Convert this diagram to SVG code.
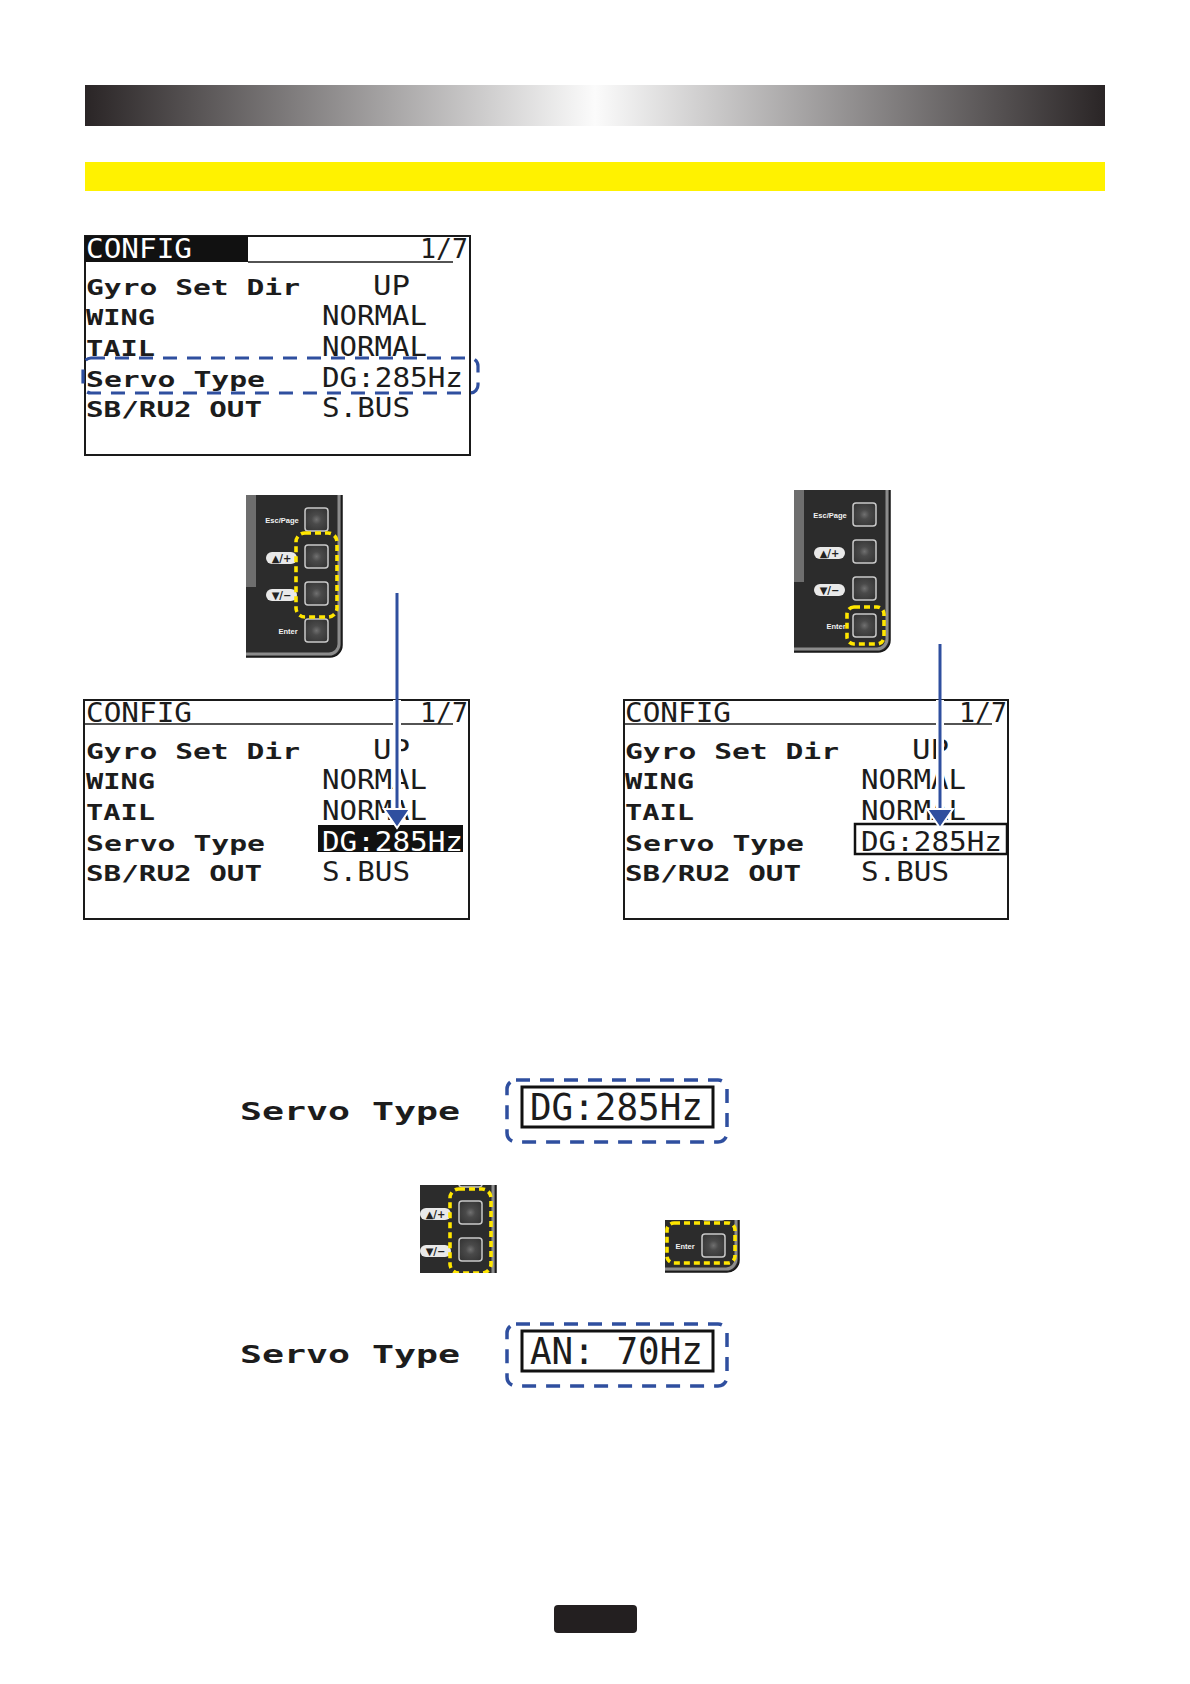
<svg xmlns="http://www.w3.org/2000/svg" xmlns:xlink="http://www.w3.org/1999/xlink" width="1190" height="1684" viewBox="0 0 1190 1684">
<style>
.scr{fill:#fff;stroke:#1a1a1a;stroke-width:2}
.hdr{stroke:#1a1a1a;stroke-width:1.6}
.lbl{font-family:"DejaVu Sans Mono",monospace;font-weight:bold;font-size:21px;fill:#1c1c1c}
.val{font-family:"DejaVu Sans Mono",monospace;font-size:27px;fill:#1c1c1c}
.blue{fill:none;stroke:#2f4f9f;stroke-width:3.2;stroke-dasharray:14 10}
.yel{fill:none;stroke:#ffe600;stroke-width:3.6;stroke-dasharray:6 4}
.btn{fill:url(#btnG);stroke:#c9c9c9;stroke-width:1.5}
.klbl{font-family:"Liberation Sans",Arial,sans-serif;font-weight:bold;font-size:7.5px;fill:#f2f2f2;text-anchor:middle}
.pill{fill:#e9e9e9}
.ptxt{font-family:"DejaVu Sans",sans-serif;font-weight:bold;font-size:10px;fill:#222;text-anchor:middle}
.arr{stroke:#2f4f9f;stroke-width:3}
.halo{stroke:#fff;stroke-width:8}
.head{fill:#2f4f9f;stroke:#fff;stroke-width:2}
</style>
<defs>
<linearGradient id="barG" x1="0" y1="0" x2="1" y2="0">
<stop offset="0" stop-color="#2a2526"/>
<stop offset="0.5" stop-color="#fbfbfb"/>
<stop offset="1" stop-color="#2a2526"/>
</linearGradient>
<radialGradient id="btnG" cx="0.5" cy="0.5" r="0.6">
<stop offset="0" stop-color="#707070"/>
<stop offset="0.35" stop-color="#4a4a4a"/>
<stop offset="1" stop-color="#353535"/>
</radialGradient>
<g id="kpbase">
<path d="M246,495 H342 V645 A12,12 0 0 1 330,657 H246 Z" fill="#2c2c2c"/>
<path d="M339,495 V644 A10,10 0 0 1 329,654 H246" fill="none" stroke="#8c8c8c" stroke-width="3"/>
<path d="M342,495 V645 A12,12 0 0 1 330,657 H246" fill="none" stroke="#161616" stroke-width="1.5"/>
<rect x="246" y="495" width="10" height="92" fill="#6e6e6e"/>
<rect class="btn" x="305" y="508" width="23" height="23" rx="3"/>
<rect class="btn" x="305" y="545" width="23" height="23" rx="3"/>
<rect class="btn" x="305" y="582" width="23" height="23" rx="3"/>
<rect class="btn" x="305" y="619" width="23" height="23" rx="3"/>
<text class="klbl" x="282" y="523">Esc/Page</text>
<rect class="pill" x="266" y="552" width="31" height="12" rx="6"/>
<text class="ptxt" x="281.5" y="561.5">▲/+</text>
<rect class="pill" x="266" y="589" width="31" height="12" rx="6"/>
<text class="ptxt" x="281.5" y="598.5">▼/−</text>
<text class="klbl" x="288" y="634">Enter</text>
</g>
<clipPath id="clipA" clipPathUnits="userSpaceOnUse"><rect x="420" y="1185" width="78" height="88"/></clipPath>
<clipPath id="clipB" clipPathUnits="userSpaceOnUse"><rect x="665" y="1220" width="77" height="54"/></clipPath>
</defs>

<g id="title-bar"><rect x="85" y="85" width="1020" height="41" fill="url(#barG)"/></g>
<g id="yellow-bar"><rect x="85" y="162" width="1020" height="29" fill="#fff200"/></g>

<g id="screen-1" transform="translate(85,236)">
<rect class="scr" x="0" y="0" width="385" height="219"/>
<rect x="0" y="0" width="163" height="26" fill="#111"/>
<line class="hdr" x1="163" y1="26" x2="368" y2="26"/>
<text class="val" x="1" y="22" textLength="106" lengthAdjust="spacingAndGlyphs" style="fill:#fff">CONFIG</text>
<text class="val" x="335" y="22" textLength="48" lengthAdjust="spacingAndGlyphs">1/7</text>
<text class="lbl" x="1" y="59" textLength="214" lengthAdjust="spacingAndGlyphs">Gyro Set Dir</text>
<text class="lbl" x="1" y="89" textLength="69" lengthAdjust="spacingAndGlyphs">WING</text>
<text class="lbl" x="1" y="120" textLength="69" lengthAdjust="spacingAndGlyphs">TAIL</text>
<text class="lbl" x="1" y="151" textLength="179" lengthAdjust="spacingAndGlyphs">Servo Type</text>
<text class="lbl" x="1" y="181" textLength="176" lengthAdjust="spacingAndGlyphs">SB/RU2 OUT</text>
<text class="val" x="288" y="59" textLength="37" lengthAdjust="spacingAndGlyphs">UP</text>
<text class="val" x="237" y="89" textLength="105" lengthAdjust="spacingAndGlyphs">NORMAL</text>
<text class="val" x="237" y="120" textLength="105" lengthAdjust="spacingAndGlyphs">NORMAL</text>
<text class="val" x="237" y="151" textLength="141" lengthAdjust="spacingAndGlyphs">DG:285Hz</text>
<text class="val" x="237" y="181" textLength="88" lengthAdjust="spacingAndGlyphs">S.BUS</text>
<rect class="blue" x="-2" y="122" width="395" height="35" rx="8"/>
</g>

<g id="keypad-1">
<use xlink:href="#kpbase" href="#kpbase"/>
<rect class="yel" x="296" y="533" width="41" height="84" rx="9"/>
</g>

<g id="keypad-2">
<use xlink:href="#kpbase" href="#kpbase" transform="translate(548,-5)"/>
<rect class="yel" x="847" y="607" width="37" height="37" rx="7"/>
</g>

<g id="screen-2" transform="translate(85,700)">
<rect class="scr" x="-1" y="0" width="385" height="219"/>
<line class="hdr" x1="-1" y1="24" x2="368" y2="24"/>
<text class="val" x="1" y="22" textLength="106" lengthAdjust="spacingAndGlyphs">CONFIG</text>
<text class="val" x="335" y="22" textLength="48" lengthAdjust="spacingAndGlyphs">1/7</text>
<text class="lbl" x="1" y="59" textLength="214" lengthAdjust="spacingAndGlyphs">Gyro Set Dir</text>
<text class="lbl" x="1" y="89" textLength="69" lengthAdjust="spacingAndGlyphs">WING</text>
<text class="lbl" x="1" y="120" textLength="69" lengthAdjust="spacingAndGlyphs">TAIL</text>
<text class="lbl" x="1" y="151" textLength="179" lengthAdjust="spacingAndGlyphs">Servo Type</text>
<text class="lbl" x="1" y="181" textLength="176" lengthAdjust="spacingAndGlyphs">SB/RU2 OUT</text>
<text class="val" x="288" y="59" textLength="37" lengthAdjust="spacingAndGlyphs">UP</text>
<text class="val" x="237" y="89" textLength="105" lengthAdjust="spacingAndGlyphs">NORMAL</text>
<text class="val" x="237" y="120" textLength="105" lengthAdjust="spacingAndGlyphs">NORMAL</text>
<rect x="233" y="125" width="145" height="27" fill="#111"/>
<text class="val" x="237" y="151" textLength="141" lengthAdjust="spacingAndGlyphs" style="fill:#fff">DG:285Hz</text>
<text class="val" x="237" y="181" textLength="88" lengthAdjust="spacingAndGlyphs">S.BUS</text>
</g>

<g id="screen-3" transform="translate(624,700)">
<rect class="scr" x="0" y="0" width="384" height="219"/>
<line class="hdr" x1="0" y1="24" x2="368" y2="24"/>
<text class="val" x="1" y="22" textLength="106" lengthAdjust="spacingAndGlyphs">CONFIG</text>
<text class="val" x="335" y="22" textLength="48" lengthAdjust="spacingAndGlyphs">1/7</text>
<text class="lbl" x="1" y="59" textLength="214" lengthAdjust="spacingAndGlyphs">Gyro Set Dir</text>
<text class="lbl" x="1" y="89" textLength="69" lengthAdjust="spacingAndGlyphs">WING</text>
<text class="lbl" x="1" y="120" textLength="69" lengthAdjust="spacingAndGlyphs">TAIL</text>
<text class="lbl" x="1" y="151" textLength="179" lengthAdjust="spacingAndGlyphs">Servo Type</text>
<text class="lbl" x="1" y="181" textLength="176" lengthAdjust="spacingAndGlyphs">SB/RU2 OUT</text>
<text class="val" x="288" y="59" textLength="37" lengthAdjust="spacingAndGlyphs">UP</text>
<text class="val" x="237" y="89" textLength="105" lengthAdjust="spacingAndGlyphs">NORMAL</text>
<text class="val" x="237" y="120" textLength="105" lengthAdjust="spacingAndGlyphs">NORMAL</text>
<rect x="231" y="124" width="152" height="30" fill="none" stroke="#111" stroke-width="2.5"/>
<text class="val" x="237" y="151" textLength="141" lengthAdjust="spacingAndGlyphs">DG:285Hz</text>
<text class="val" x="237" y="181" textLength="88" lengthAdjust="spacingAndGlyphs">S.BUS</text>
</g>

<g id="connectors">
<line class="halo" x1="397" y1="700" x2="397" y2="810"/>
<line class="arr" x1="397" y1="593" x2="397" y2="812"/>
<polygon class="head" points="384,809 410,809 397,828"/>
<line class="halo" x1="940" y1="700" x2="940" y2="810"/>
<line class="arr" x1="940" y1="644" x2="940" y2="812"/>
<polygon class="head" points="927,809 953,809 940,828"/>
</g>

<g id="servo-row-1">
<text class="lbl" x="240" y="1120" textLength="220" lengthAdjust="spacingAndGlyphs" style="font-size:25px">Servo Type</text>
<rect class="blue" x="507" y="1080" width="220" height="62" rx="9" style="stroke-width:3.5"/>
<rect x="522" y="1087" width="191" height="40" fill="#fff" stroke="#111" stroke-width="3"/>
<text class="val" x="530" y="1120" textLength="173" lengthAdjust="spacingAndGlyphs" style="font-size:37px">DG:285Hz</text>
</g>

<g id="keypad-crop-updown" clip-path="url(#clipA)">
<use xlink:href="#kpbase" href="#kpbase" transform="translate(154,656)"/>
<rect class="yel" x="450" y="1189" width="41" height="84" rx="9"/>
</g>

<g id="keypad-crop-enter" clip-path="url(#clipB)">
<use xlink:href="#kpbase" href="#kpbase" transform="translate(397,615)"/>
</g>
<g id="enter-highlight"><rect class="yel" x="667" y="1223" width="68" height="40" rx="7"/></g>

<g id="servo-row-2">
<text class="lbl" x="240" y="1363" textLength="220" lengthAdjust="spacingAndGlyphs" style="font-size:25px">Servo Type</text>
<rect class="blue" x="507" y="1324" width="220" height="62" rx="9" style="stroke-width:3.5"/>
<rect x="522" y="1331" width="191" height="40" fill="#fff" stroke="#111" stroke-width="3"/>
<text class="val" x="530" y="1364" textLength="173" lengthAdjust="spacingAndGlyphs" style="font-size:37px">AN: 70Hz</text>
</g>

<g id="page-number"><rect x="554" y="1605" width="83" height="28" rx="4" fill="#231f20"/></g>
</svg>
